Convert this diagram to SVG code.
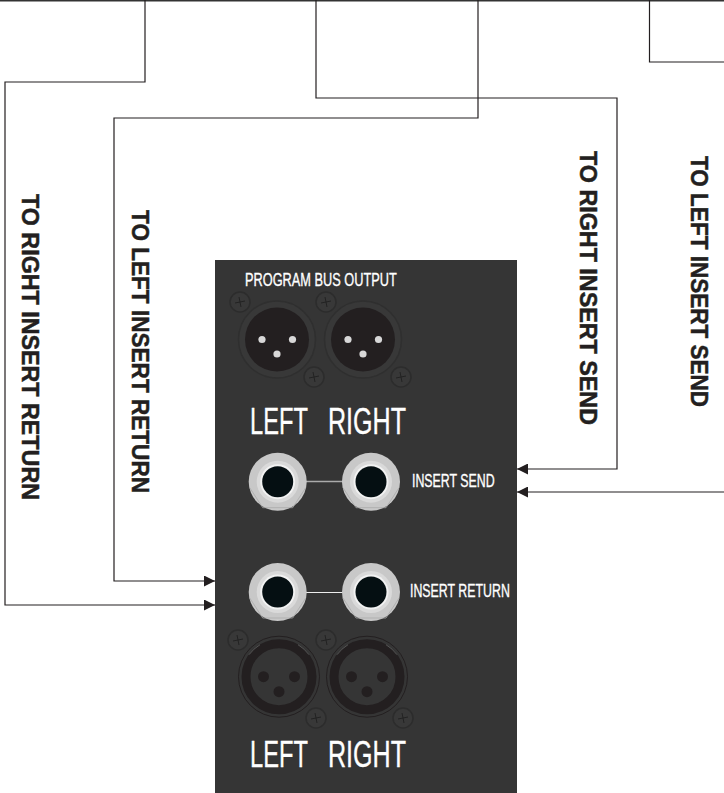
<svg xmlns="http://www.w3.org/2000/svg" width="724" height="793" viewBox="0 0 724 793">
<defs>
<style>
.wire{fill:none;stroke:#231f20;stroke-width:1.2}
.top{fill:none;stroke:#333;stroke-width:2}
.t{font-family:"Liberation Sans",Arial,sans-serif;fill:#fff;stroke:#fff;stroke-width:.35}
.big{font-size:37px}
.small{font-size:18px}
.v{font-family:"Liberation Sans",Arial,sans-serif;font-weight:700;font-size:24px;fill:#231f20;stroke:#231f20;stroke-width:.5}
.screw{fill:#383838;stroke:#2c2c2c;stroke-width:1.5}
.cross{stroke:#222;stroke-width:1;fill:none}
</style>
<marker id="arrow" viewBox="0 0 10 10" refX="10" refY="5" markerWidth="11" markerHeight="11" markerUnits="userSpaceOnUse" orient="auto"><path d="M0 0L10 5L0 10Z" fill="#231f20"/></marker>
<g id="screwS"><circle class="screw" r="10"/><path class="cross" d="M-5 1L5-1M-1-5L1 5"/></g>
<g id="xlrM"><circle r="38.500" fill="#383838" stroke="#2f2f2f" stroke-width="1.500"/><circle r="32" fill="#231f20"/><circle cx="-15" r="3.600" fill="#d8d8d8"/><circle cx="15.500" r="3.600" fill="#d8d8d8"/><circle cy="14.500" r="3.600" fill="#d8d8d8"/></g>
<g id="xlrF"><circle r="40.500" fill="#353535" stroke="#231f20" stroke-width="1"/><circle r="33" fill="#353535" stroke="#231f20" stroke-width="9"/><path d="M-19-32A38 38 0 0 0-30-22M19-32A38 38 0 0 1 30-22" fill="none" stroke="#555" stroke-width="1"/><circle cx="-15.500" r="5.500" fill="#231f20"/><circle cx="15.500" r="5.500" fill="#231f20"/><circle cy="15" r="5.500" fill="#231f20"/></g>
<g id="jack"><circle r="29" fill="#c8c8c8"/><path d="M-28 6L-15 26H15L28 6" fill="none" stroke="#aaa" stroke-width="0.800"/><circle r="21" fill="#dadada"/><circle r="17.500" fill="#f2f2f2"/><circle r="15.500" fill="#050f12"/></g>
</defs>
<rect width="724" height="793" fill="#fff"/>
<g id="connectors">
<path class="top" d="M0 0.500H724"/>
<path class="wire" d="M145 0V82H5V605H215" marker-end="url(#arrow)"/>
<path class="wire" d="M478 0V118H114V581H215" marker-end="url(#arrow)"/>
<path class="wire" d="M316 0V98H617V469H517" marker-end="url(#arrow)"/>
<path class="wire" d="M724 492H517" marker-end="url(#arrow)"/>
<path class="wire" d="M649.500 0V62H724"/>
</g>
<g id="labels-vertical">
<text class="v" transform="translate(21.500 194) rotate(90)" textLength="306" lengthAdjust="spacingAndGlyphs">TO RIGHT INSERT RETURN</text>
<text class="v" transform="translate(131.500 210) rotate(90)" textLength="283" lengthAdjust="spacingAndGlyphs">TO LEFT INSERT RETURN</text>
<text class="v" transform="translate(580 151) rotate(90)" textLength="274" lengthAdjust="spacingAndGlyphs">TO RIGHT INSERT SEND</text>
<text class="v" transform="translate(691 156) rotate(90)" textLength="251" lengthAdjust="spacingAndGlyphs">TO LEFT INSERT SEND</text>
</g>
<g id="panel">
<rect x="215" y="260" width="302" height="533" fill="#353535"/>
<text class="t small" transform="translate(245 286) scale(.71 1)">PROGRAM BUS OUTPUT</text>
<text class="t big" transform="translate(250 434) scale(.64 1)">LEFT</text>
<text class="t big" transform="translate(328 434) scale(.678 1)">RIGHT</text>
<text class="t small" transform="translate(412 487) scale(.687 1)">INSERT SEND</text>
<text class="t small" transform="translate(410 597) scale(.687 1)">INSERT RETURN</text>
<text class="t big" transform="translate(250 767) scale(.64 1)">LEFT</text>
<text class="t big" transform="translate(328 767) scale(.678 1)">RIGHT</text>
</g>
<g id="xlr-out-left"><use href="#xlrM" x="277" y="339.500"/><use href="#screwS" x="240" y="302"/><use href="#screwS" x="314" y="377"/></g>
<g id="xlr-out-right"><use href="#xlrM" x="363" y="339.500"/><use href="#screwS" x="326" y="302"/><use href="#screwS" x="401" y="377"/></g>
<g id="insert-send"><path d="M300 481.500H350" stroke="#aaa" stroke-width="1.500"/><use href="#jack" x="277.700" y="481.700"/><use href="#jack" x="371" y="481.700"/></g>
<g id="insert-return"><path d="M300 592.500H350" stroke="#eee" stroke-width="1.200"/><use href="#jack" x="277.700" y="592"/><use href="#jack" x="371" y="592"/></g>
<g id="xlr-in-left"><use href="#xlrF" x="279" y="676.700"/><use href="#screwS" x="238" y="640"/><use href="#screwS" x="316" y="718"/></g>
<g id="xlr-in-right"><use href="#xlrF" x="367" y="676.700"/><use href="#screwS" x="326" y="640"/><use href="#screwS" x="403" y="718"/></g>
</svg>
